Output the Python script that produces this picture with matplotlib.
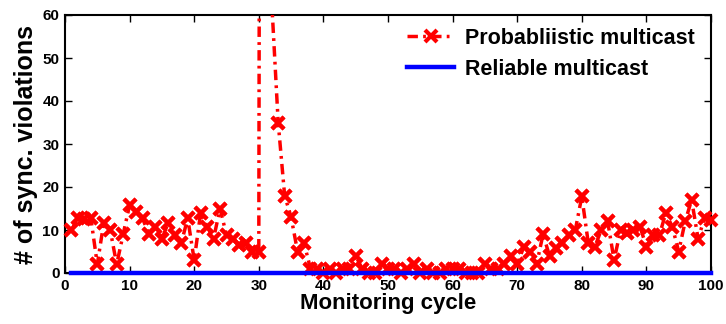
import numpy as np
import matplotlib
matplotlib.use("Agg")
import matplotlib.pyplot as plt

cycles = list(range(1, 101))
probabilistic = [
    10, 12.7, 12.5, 12.8, 2, 11.7, 10, 2, 9, 15.8,
    14.3, 12.7, 9, 10.8, 8, 11.7, 8.8, 7, 12.7, 3,
    14, 10.8, 8, 15, 8.8, 8, 6.5, 7, 5, 5,
    900, 63, 35, 18, 13, 5, 7, 1, 1, 0,
    1, 0, 1, 1, 4, 1, 0, 0, 2, 1,
    1, 0, 1, 2, 0, 1, 0, 0, 1, 1,
    1, 0, 0, 0, 2, 1, 1, 2, 4, 2,
    6, 5, 2, 9, 4, 5.7, 6.9, 8.8, 10, 17.8,
    7, 6, 10, 12, 3, 10, 9.2, 10, 10.8, 6.1,
    8.8, 8.8, 13.9, 10.8, 5, 12, 17, 8, 12.7, 12.3,
]
reliable = [0] * 100

xticks = list(range(0, 101, 10))
yticks = list(range(0, 61, 10))

plt.rcParams['font.family'] = ['Liberation Sans', 'DejaVu Sans']

fig = plt.figure(figsize=(7.26, 3.24), dpi=100)
ax = fig.add_axes([65/726, 51/324, 646/726, 258/324])

p = np.array(probabilistic, dtype=float)
ax.plot(cycles, p, color='#ff0000', linestyle=(0, (3, 1.5, 0.8, 1.5)), linewidth=2.5,
        marker='x', markersize=9, markeredgewidth=3,
        label='Probabliistic multicast', zorder=3)
# unclipped markers for visible points (MATLAB-style)
vis = np.where(p <= 60, p, np.nan)
ax.plot(cycles, vis, color='#ff0000', linestyle='none', marker='x',
        markersize=9, markeredgewidth=3, clip_on=False, zorder=3)
ax.plot(cycles, reliable, color='#0000ff', linewidth=3.2,
        label='Reliable multicast', clip_on=False, zorder=4)

ax.set_xlim(0, 100)
ax.set_ylim(0, 60)
ax.set_xticks(xticks)
ax.set_yticks(yticks)
ax.tick_params(direction='in', top=True, right=True, length=5, width=1,
               labelsize=11, pad=4)
for lbl in ax.get_xticklabels() + ax.get_yticklabels():
    lbl.set_fontweight('bold')
for s in ax.spines.values():
    s.set_linewidth(1.5)

ax.set_xlabel('Monitoring cycle', fontsize=16, fontweight='bold', labelpad=0)
ax.set_ylabel('# of sync. violations', fontsize=18, fontweight='bold', labelpad=3)

leg = ax.legend(loc='upper right', frameon=False,
                prop={'size': 15.5, 'weight': 'bold'},
                handlelength=2.2, borderaxespad=0.2, labelspacing=0.45,
                handletextpad=0.5, bbox_to_anchor=(0.995, 1.0))

fig.savefig('out.png', dpi=100)
